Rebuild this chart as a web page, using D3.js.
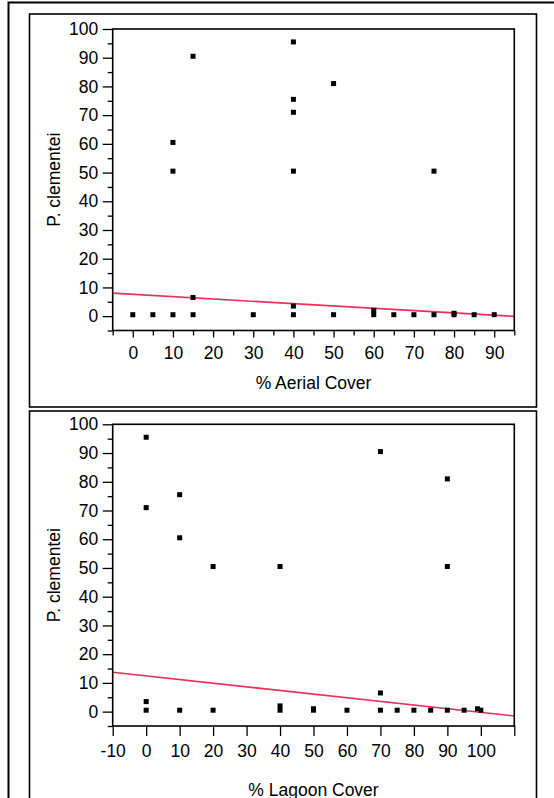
<!DOCTYPE html>
<html>
<head>
<meta charset="utf-8">
<script src="https://cdn.jsdelivr.net/npm/d3@7"></script>
<style>
  body { margin: 0; background: #fff; }
  svg { display: block; font-family: "Liberation Sans", Arial, sans-serif; }
</style>
</head>
<body>
<div id="chart"></div>
<script>
// top panel: % aerial cover vs P. clementei
const aerialX = [10, 10, 15, 15, 40, 40, 40, 40, 40, 50, 75, 60, 80,
                 0, 5, 10, 15, 30, 40, 50, 60, 65, 70, 75, 80, 85, 90];
const aerialY = [60.5, 50.5, 90.5, 6.5, 95.5, 75.5, 71, 50.5, 3.5, 81, 50.5, 2, 1,
                 0.5, 0.5, 0.5, 0.5, 0.5, 0.5, 0.5, 0.5, 0.5, 0.5, 0.5, 0.5, 0.5, 0.5];
const aerialFit = [7.6, -0.081]; // intercept, slope
const aerialTicks = [0, 10, 20, 30, 40, 50, 60, 70, 80, 90];

// bottom panel: % lagoon cover vs P. clementei
const lagoonX = [0, 70, 90, 10, 0, 10, 20, 40, 90, 0, 40, 50, 70, 99,
                 0, 10, 20, 40, 50, 60, 70, 75, 80, 85, 90, 95, 100];
const lagoonY = [95.5, 90.5, 81, 75.5, 71, 60.5, 50.5, 50.5, 50.5, 3.5, 2, 1, 6.5, 1,
                 0.5, 0.5, 0.5, 0.5, 0.5, 0.5, 0.5, 0.5, 0.5, 0.5, 0.5, 0.5, 0.5];
const lagoonFit = [12.43, -0.1267];
const lagoonTicks = [-10, 0, 10, 20, 30, 40, 50, 60, 70, 80, 90, 100];

const yTicks = [0, 10, 20, 30, 40, 50, 60, 70, 80, 90, 100];
const yLabel = "P. clementei";

const W = 554, H = 798;
const fontSize = 17.5;
const lineColor = "#ee2f57";

const svg = d3.select("#chart").append("svg")
    .attr("width", W)
    .attr("height", H);

//outer frame (right and bottom run off the page)
svg.append("path")
    .attr("d", `M8.5,${H + 5} V2.5 H${W + 5}`)
    .attr("fill", "none")
    .attr("stroke", "#000")
    .attr("stroke-width", 2);

function drawPanel(opts) {
    const { box, plot, xDomain, xMajor, xMinor, xTickLen, xLabelGap, xs, ys, fit, xTitle, xTitleY } = opts;

    //panel border
    svg.append("rect")
        .attr("x", box.x).attr("y", box.y)
        .attr("width", box.w).attr("height", box.h)
        .attr("fill", "none")
        .attr("stroke", "#000")
        .attr("stroke-width", 1.6);

    const x = d3.scaleLinear().domain(xDomain).range([plot.left, plot.right]);
    const y = d3.scaleLinear().domain([-5, 100]).range([plot.bottom, plot.top]);

    //y axis: major ticks with labels, minor ticks between
    const yMinor = d3.range(-5, 100, 10);
    svg.append("g")
        .attr("transform", `translate(${plot.left},0)`)
        .call(d3.axisLeft(y).tickValues(yMinor).tickSize(5).tickFormat(""))
        .call(g => g.select(".domain").remove());
    svg.append("g")
        .attr("transform", `translate(${plot.left},0)`)
        .call(d3.axisLeft(y).tickValues(yTicks).tickSize(10).tickPadding(4.5))
        .call(g => g.select(".domain").remove())
        .selectAll("text")
            .attr("font-size", fontSize)
            .attr("fill", "#000")
            .attr("font-family", "Liberation Sans, Arial, sans-serif");

    //x axis
    if (xMinor.length) {
        svg.append("g")
            .attr("transform", `translate(0,${plot.bottom})`)
            .call(d3.axisBottom(x).tickValues(xMinor).tickSize(xTickLen[1]).tickFormat(""))
            .call(g => g.select(".domain").remove());
    }
    svg.append("g")
        .attr("transform", `translate(0,${plot.bottom})`)
        .call(d3.axisBottom(x).tickValues(xMajor).tickSize(xTickLen[0]).tickPadding(xLabelGap - xTickLen[0]).tickFormat(d => opts.xLabels.includes(d) ? d : ""))
        .call(g => g.select(".domain").remove())
        .selectAll("text")
            .attr("font-size", fontSize)
            .attr("fill", "#000")
            .attr("font-family", "Liberation Sans, Arial, sans-serif");

    svg.selectAll(".tick line").attr("stroke-width", 1.3);

    //regression line, clipped to the frame
    const clipId = "clip" + Math.round(plot.top);
    svg.append("clipPath").attr("id", clipId)
        .append("rect")
        .attr("x", plot.left).attr("y", plot.top)
        .attr("width", plot.right - plot.left)
        .attr("height", plot.bottom - plot.top);

    svg.append("line")
        .attr("clip-path", `url(#${clipId})`)
        .attr("x1", x(xDomain[0])).attr("y1", y(fit[0] + fit[1] * xDomain[0]))
        .attr("x2", x(xDomain[1])).attr("y2", y(fit[0] + fit[1] * xDomain[1]))
        .attr("stroke", lineColor)
        .attr("stroke-width", 1.6);

    //points
    svg.append("g")
        .selectAll("rect")
        .data(d3.range(xs.length))
        .join("rect")
            .attr("x", i => x(xs[i]) - 2.5)
            .attr("y", i => y(ys[i]) - 2.5)
            .attr("width", 5)
            .attr("height", 5)
            .attr("fill", "#000");

    //plot frame
    svg.append("rect")
        .attr("x", plot.left).attr("y", plot.top)
        .attr("width", plot.right - plot.left)
        .attr("height", plot.bottom - plot.top)
        .attr("fill", "none")
        .attr("stroke", "#000")
        .attr("stroke-width", 1.6);

    //axis titles
    svg.append("text")
        .attr("x", (plot.left + plot.right) / 2)
        .attr("y", xTitleY)
        .attr("text-anchor", "middle")
        .attr("font-size", fontSize)
        .text(xTitle);

    svg.append("text")
        .attr("transform", `translate(60,${(plot.top + plot.bottom) / 2}) rotate(-90)`)
        .attr("text-anchor", "middle")
        .attr("font-size", fontSize)
        .text(yLabel);
}

drawPanel({
    box: { x: 29.5, y: 14, w: 507, h: 393 },
    plot: { left: 112.7, right: 514.3, top: 29, bottom: 330.5 },
    xDomain: [-5, 95],
    xMajor: d3.range(0, 100, 10),
    xMinor: d3.range(-5, 100, 10),
    xLabels: aerialTicks,
    xTickLen: [7, 5],
    xLabelGap: 16,
    xs: aerialX, ys: aerialY, fit: aerialFit,
    xTitle: "% Aerial Cover",
    xTitleY: 389
});

drawPanel({
    box: { x: 29.5, y: 411, w: 507, h: 400 },
    plot: { left: 112.7, right: 514.3, top: 424.3, bottom: 726 },
    xDomain: [-10, 110],
    xMajor: d3.range(-10, 111, 10),
    xMinor: [],
    xLabels: lagoonTicks,
    xTickLen: [10, 0],
    xLabelGap: 18.5,
    xs: lagoonX, ys: lagoonY, fit: lagoonFit,
    xTitle: "% Lagoon Cover",
    xTitleY: 796
});
</script>
</body>
</html>
